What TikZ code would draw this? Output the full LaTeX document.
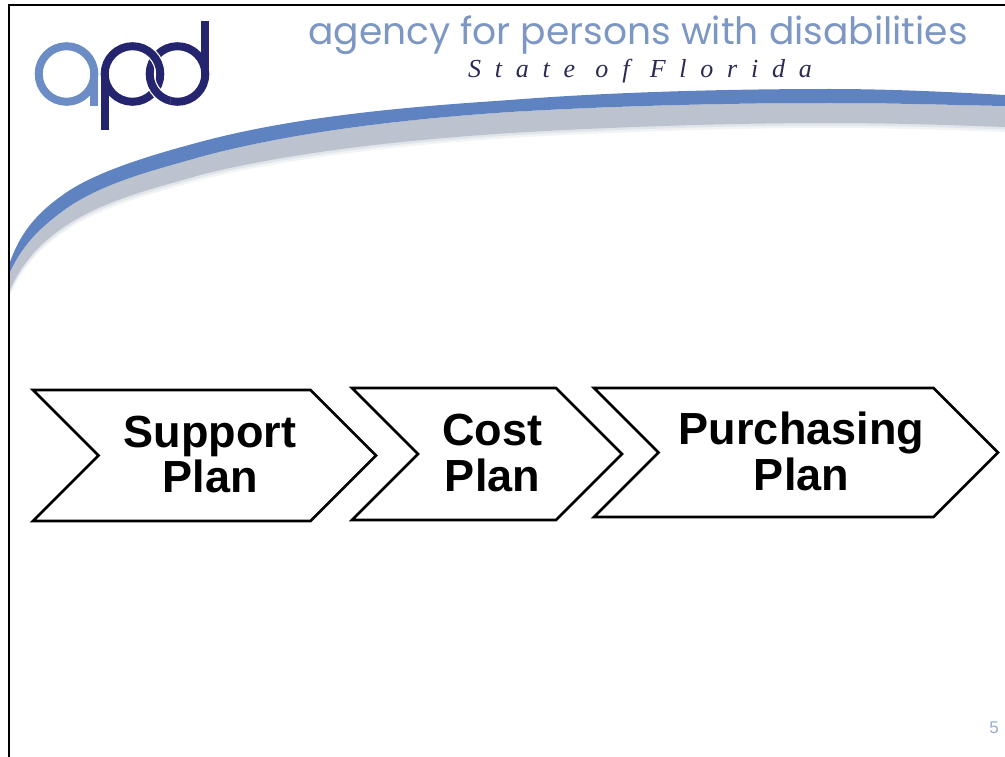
\documentclass[tikz,border=0pt]{standalone}
\usepackage{fontspec}
\setmainfont{Liberation Sans}
\newfontfamily\headfont{Poppins}
\newfontfamily\statefont[LetterSpace=53]{Liberation Serif}
\usetikzlibrary{shapes}
\usetikzlibrary{shapes.symbols}
\definecolor{apdlight}{HTML}{6B8CC4}
\definecolor{apddark}{HTML}{25246F}
\definecolor{bandblue}{HTML}{5F82C0}
\definecolor{bandgray}{HTML}{BCC3CF}
\definecolor{headblue}{HTML}{7D97C4}
\definecolor{statenavy}{HTML}{2B2A55}
\newcommand{\graypath}{(10,272) .. controls (25,240) and (45,224) .. (67,208)
    .. controls (105,182) and (155,170) .. (200,157)
    .. controls (300,130) and (420,118) .. (510,112)
    .. controls (610,106) and (730,103) .. (830,103)
    .. controls (890,103) and (950,105) .. (1005,106)
    -- (1005,127) .. controls (950,125) and (890,123) .. (830,123)
    .. controls (730,123) and (610,127) .. (510,133)
    .. controls (420,139) and (300,150) .. (200,175)
    .. controls (155,188) and (105,200) .. (67,225)
    .. controls (42,241) and (22,262) .. (10,290) -- cycle}
\tikzset{
    planstep/.style={draw, line width=2.8pt, fill=white, signal, signal to=east, signal from=west,
        signal pointer angle=90, inner sep=0pt},
    planlabel/.style={align=center, inner sep=0pt, xshift=5.5pt, yshift=1pt,
        font=\bfseries\fontsize{45}{45.5}\selectfont},
    logoring/.style={line width=8pt}
}
\begin{document}
\begin{tikzpicture}[x=1pt,y=-1pt]
    \useasboundingbox (0,0) rectangle (1005,757);
    % swoosh
    \fill[bandgray!20, yshift=-5pt] \graypath;
    \fill[bandgray!45, yshift=-2.5pt] \graypath;
    \fill[bandgray] \graypath;
    \fill[bandblue] (10,262) .. controls (22,228) and (42,209) .. (67,192)
        .. controls (100,170) and (155,154) .. (200,142)
        .. controls (300,115) and (420,106) .. (510,100)
        .. controls (610,92) and (730,89) .. (830,89)
        .. controls (890,89) and (950,92) .. (1005,95)
        -- (1005,106) .. controls (950,105) and (890,103) .. (830,103)
        .. controls (730,103) and (610,106) .. (510,112)
        .. controls (420,118) and (300,130) .. (200,157)
        .. controls (155,170) and (105,182) .. (67,208)
        .. controls (45,224) and (25,240) .. (10,272) -- cycle;
    % frame
    \draw[line width=2pt] (9,757) -- (9,5) -- (1005,5);
    % logo
    \draw[logoring, apdlight] (66.5,74) circle (27.8);
    \fill[apdlight] (90,74) rectangle (98.3,106);
    \draw[logoring, apddark] (132.5,74) circle (27.8);
    \fill[apddark] (100.7,74) rectangle (108.7,130);
    \draw[logoring, apddark] (177.5,74) circle (27.8);
    \fill[apddark] (201.3,21) rectangle (209.3,74);
    \begin{scope}
        \clip (140,40) rectangle (170,74);
        \draw[line width=10.5pt, white] (132.5,74) circle (27.8);
        \draw[logoring, apddark] (132.5,74) circle (27.8);
    \end{scope}
    \begin{scope}
        \clip (140,74) rectangle (170,110);
        \draw[line width=10.5pt, white] (177.5,74) circle (27.8);
        \draw[logoring, apddark] (177.5,74) circle (27.8);
    \end{scope}
    % header
    \node[text=headblue, font=\headfont\fontsize{37.6}{40}\selectfont, anchor=base] (agency) at (638,45) {agency for persons with disabilities};
    \node[text=statenavy, font=\statefont\itshape\fontsize{26}{28}\selectfont, anchor=base] (state) at (640,78) {State of Florida};
    % chevrons
    \node[planstep, minimum width=343pt, minimum height=131pt] (support) at (204.5,455.5) {};
    \node[planstep, minimum width=270pt, minimum height=132pt] (cost) at (487,454) {};
    \node[planstep, minimum width=404pt, minimum height=129pt] (purchasing) at (796,452.5) {};
    \node[planlabel] (supportlabel) at (support.center) {Support\\Plan};
    \node[planlabel] (costlabel) at (cost.center) {Cost\\Plan};
    \node[planlabel] (purchasinglabel) at (purchasing.center) {Purchasing\\Plan};
    % page number
    \node[text=headblue!80, font=\fontsize{17}{17}\selectfont] (pagenum) at (994,728) {5};
\end{tikzpicture}
\end{document}
